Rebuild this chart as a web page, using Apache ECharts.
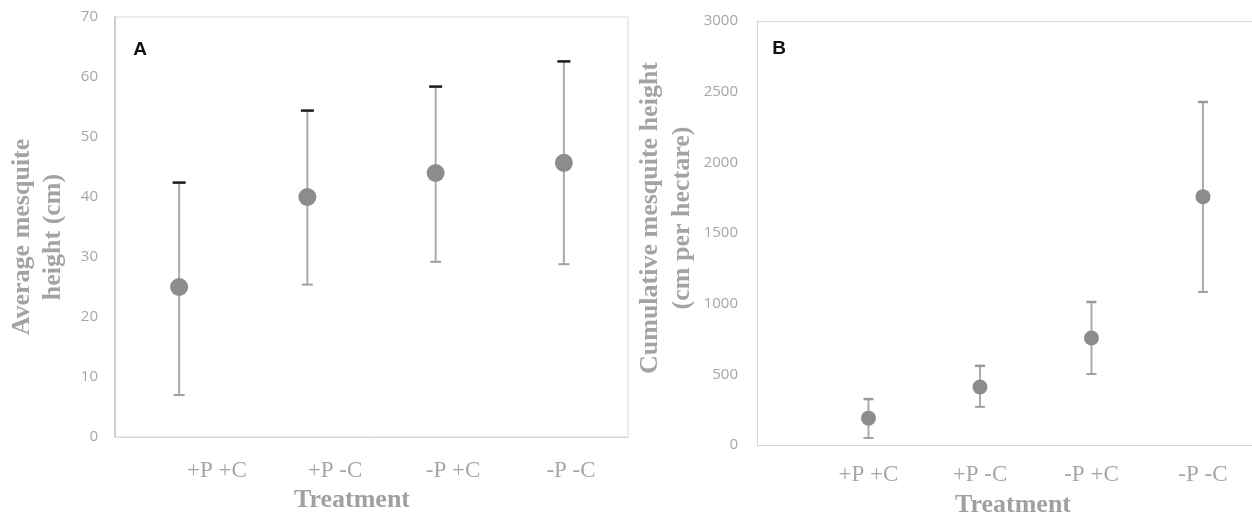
<!DOCTYPE html>
<html>
<head>
<meta charset="utf-8">
<script src="https://cdn.jsdelivr.net/npm/echarts@6/dist/echarts.min.js"></script>
<style>
html,body{margin:0;padding:0;background:#fff;}
#chart{width:1252px;height:514px;}
</style>
</head>
<body>
<div id="chart"></div>
<script>
// ---- data ----
var categories = ['+P +C', '+P -C', '-P +C', '-P -C'];
var avgMean = [25, 40, 44, 45.7];
var avgLow = [7, 25.4, 29.2, 28.8];
var avgHigh = [42.4, 54.4, 58.4, 62.6];
var cumMean = [190, 410, 757, 1757];
var cumLow = [50, 270, 502, 1083];
var cumHigh = [325, 560, 1012, 2427];
var avgTicks = [0, 10, 20, 30, 40, 50, 60, 70];
var cumTicks = [0, 500, 1000, 1500, 2000, 2500, 3000];

var chart = echarts.init(document.getElementById('chart'), null, {renderer: 'canvas'});

var labelGray = '#a6a6a6';
var tickFont = 'Open Sans';
var serif = 'Liberation Serif';

function pts(mean) { return mean.map(function (v, i) { return [i + 1, v]; }); }
function bars(low, high) { return low.map(function (v, i) { return [i + 1, v, high[i]]; }); }

function errRender(topColor, topW, botW) {
  return function (params, api) {
    var x = api.value(0);
    var lo = api.coord([x, api.value(1)]);
    var hi = api.coord([x, api.value(2)]);
    return {
      type: 'group',
      children: [
        {type: 'line', shape: {x1: lo[0], y1: lo[1], x2: hi[0], y2: hi[1]}, style: {stroke: '#ababab', lineWidth: 2}},
        {type: 'line', shape: {x1: lo[0] - botW / 2, y1: lo[1], x2: lo[0] + botW / 2, y2: lo[1]}, style: {stroke: '#a0a0a0', lineWidth: 2}},
        {type: 'line', shape: {x1: hi[0] - topW / 2, y1: hi[1], x2: hi[0] + topW / 2, y2: hi[1]}, style: {stroke: topColor, lineWidth: 2.5}}
      ]
    };
  };
}

var option = {
  animation: false,
  grid: [
    {left: 115, top: 17, width: 513, height: 420, show: true, borderColor: '#dcdcdc', borderWidth: 1},
    {left: 757, top: 21, right: 0, height: 424, show: false},
    {left: 158, top: 17, width: 472, height: 420, show: false}
  ],
  xAxis: [
    {gridIndex: 0, type: 'value', min: 0.5, max: 4.5, interval: 1,
      axisLine: {show: true, lineStyle: {color: '#d4d4d4'}}, axisTick: {show: false}, axisLabel: {show: false}, splitLine: {show: false}},
    {gridIndex: 1, type: 'value', min: 0, max: 4.44, interval: 1,
      axisLine: {show: true, lineStyle: {color: '#d4d4d4'}}, axisTick: {show: false}, splitLine: {show: false},
      axisLabel: {show: true, margin: 18, color: labelGray, fontFamily: serif, fontSize: 23, showMaxLabel: false,
        formatter: function (v) { return (Number.isInteger(v) && v >= 1 && v <= 4) ? categories[v - 1] : ''; }}},
    {gridIndex: 2, type: 'category', data: categories,
      axisLine: {show: false}, axisTick: {show: false}, splitLine: {show: false},
      axisLabel: {show: true, margin: 22, color: labelGray, fontFamily: serif, fontSize: 23}},
    {gridIndex: 1, type: 'value', position: 'top', min: 0, max: 4.44,
      axisLine: {show: true, onZero: false, lineStyle: {color: '#dcdcdc'}}, axisTick: {show: false}, axisLabel: {show: false}, splitLine: {show: false}}
  ],
  yAxis: [
    {gridIndex: 0, type: 'value', min: avgTicks[0], max: avgTicks[avgTicks.length - 1], interval: avgTicks[1] - avgTicks[0],
      axisLine: {show: true, lineStyle: {color: '#c4c4c4', width: 1.5}}, axisTick: {show: false}, splitLine: {show: false},
      axisLabel: {margin: 17, color: labelGray, fontFamily: tickFont, fontSize: 15}},
    {gridIndex: 1, type: 'value', min: cumTicks[0], max: cumTicks[cumTicks.length - 1], interval: cumTicks[1] - cumTicks[0],
      axisLine: {show: true, lineStyle: {color: '#d4d4d4'}}, axisTick: {show: false}, splitLine: {show: false},
      axisLabel: {margin: 19, color: labelGray, fontFamily: tickFont, fontSize: 15, formatter: function (v) { return String(v); }}},
    {gridIndex: 2, type: 'value', show: false}
  ],
  series: [
    {type: 'custom', xAxisIndex: 0, yAxisIndex: 0, data: bars(avgLow, avgHigh), renderItem: errRender('#1a1a1a', 13, 11), z: 2},
    {type: 'scatter', xAxisIndex: 0, yAxisIndex: 0, data: pts(avgMean), symbol: 'circle', symbolSize: 18,
      itemStyle: {color: '#8c8c8c', opacity: 1}, z: 3},
    {type: 'custom', xAxisIndex: 1, yAxisIndex: 1, data: bars(cumLow, cumHigh), renderItem: errRender('#9a9a9a', 10, 10), z: 2},
    {type: 'scatter', xAxisIndex: 1, yAxisIndex: 1, data: pts(cumMean), symbol: 'circle', symbolSize: 15,
      itemStyle: {color: '#8c8c8c', opacity: 1}, z: 3}
  ],
  graphic: [
    {type: 'text', x: 140, y: 50, style: {text: 'A', font: 'bold 19px "Liberation Sans"', fill: '#111', textAlign: 'center', textVerticalAlign: 'middle', align: 'center', verticalAlign: 'middle'}},
    {type: 'text', x: 779, y: 49, style: {text: 'B', font: 'bold 19px "Liberation Sans"', fill: '#111', textAlign: 'center', textVerticalAlign: 'middle', align: 'center', verticalAlign: 'middle'}},
    {type: 'text', x: 38, y: 237, rotation: Math.PI / 2,
      style: {text: 'Average mesquite\nheight (cm)', font: 'bold 26px "Liberation Serif"', lineHeight: 31, fill: '#a3a3a3', textAlign: 'center', textVerticalAlign: 'middle', align: 'center', verticalAlign: 'middle'}},
    {type: 'text', x: 666, y: 218, rotation: Math.PI / 2,
      style: {text: 'Cumulative mesquite height\n(cm per hectare)', font: 'bold 26px "Liberation Serif"', lineHeight: 32, fill: '#a3a3a3', textAlign: 'center', textVerticalAlign: 'middle', align: 'center', verticalAlign: 'middle'}},
    {type: 'text', x: 352, y: 500, style: {text: 'Treatment', font: 'bold 26px "Liberation Serif"', fill: '#a0a0a0', textAlign: 'center', textVerticalAlign: 'middle', align: 'center', verticalAlign: 'middle'}},
    {type: 'text', x: 1013, y: 505, style: {text: 'Treatment', font: 'bold 26px "Liberation Serif"', fill: '#a0a0a0', textAlign: 'center', textVerticalAlign: 'middle', align: 'center', verticalAlign: 'middle'}}
  ]
};
chart.setOption(option);
</script>
</body>
</html>
